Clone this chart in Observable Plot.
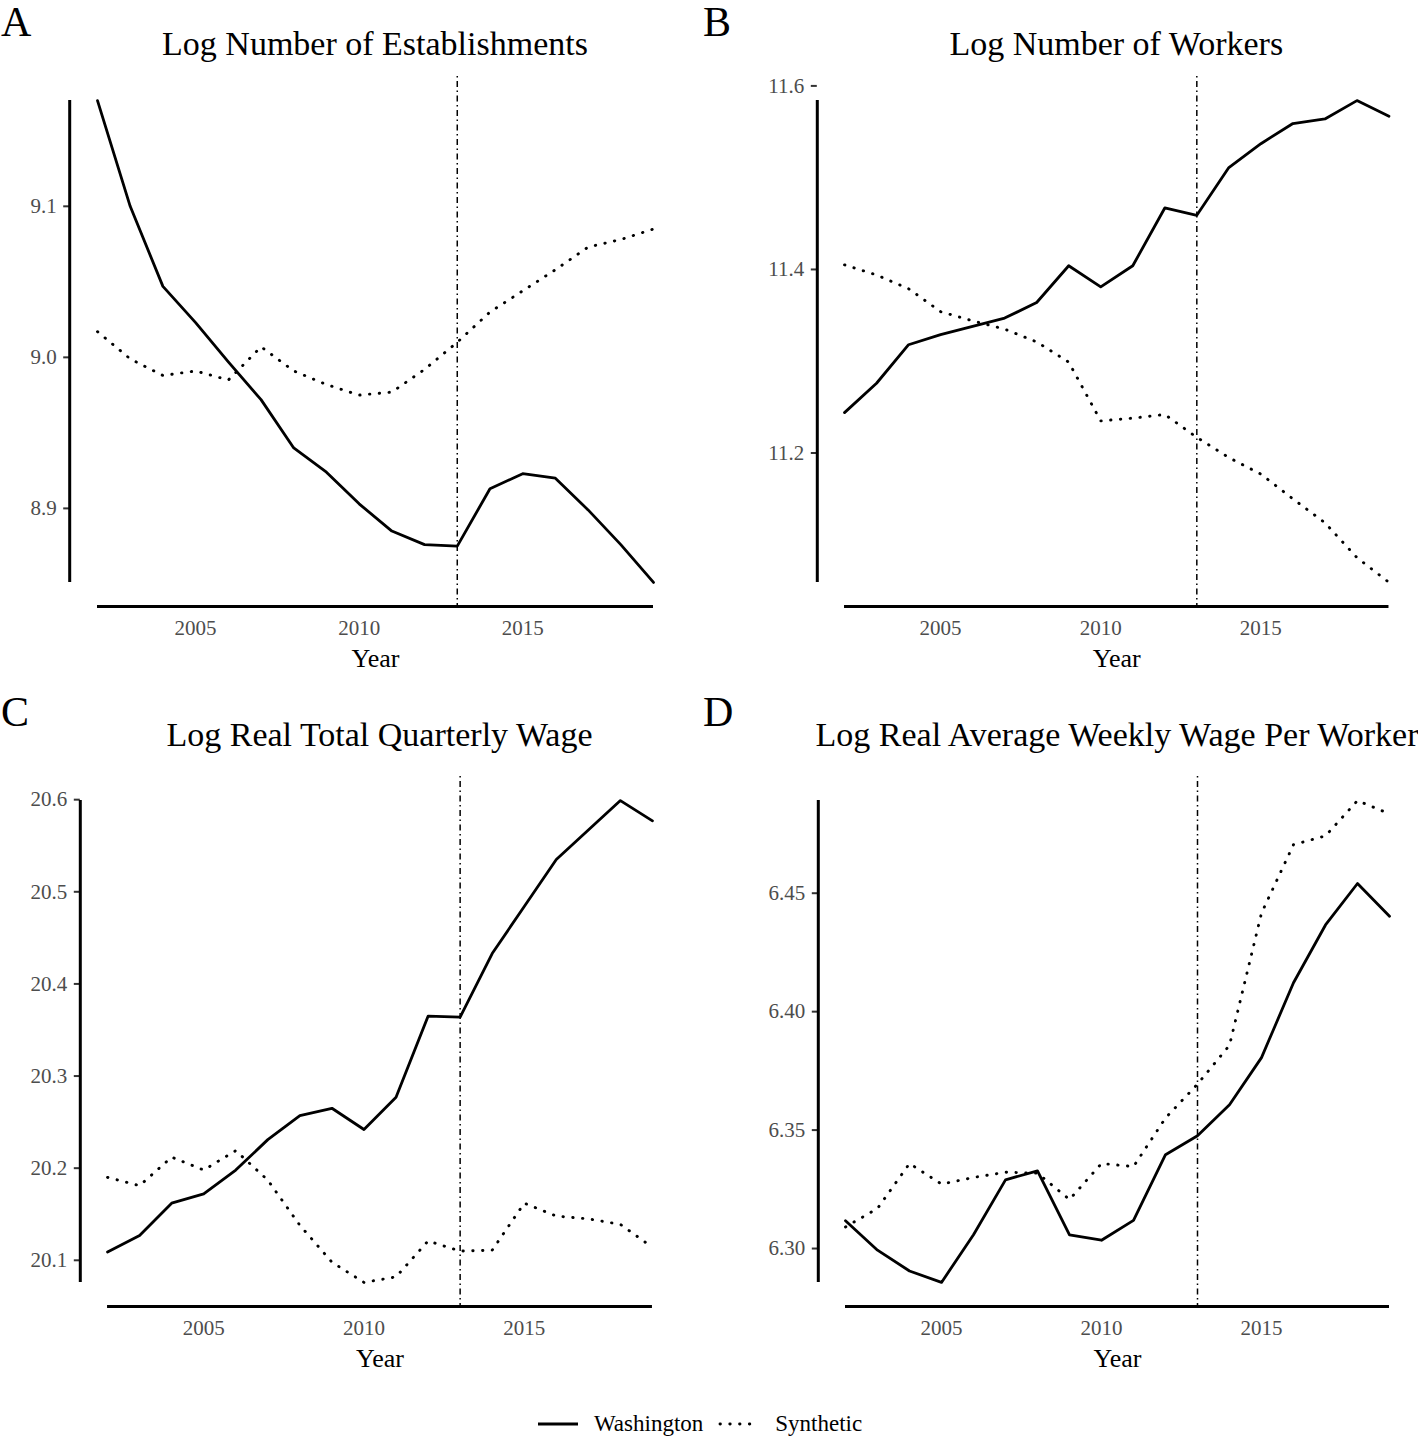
<!DOCTYPE html>
<html><head><meta charset="utf-8">
<script src="https://cdn.jsdelivr.net/npm/d3@7"></script>
<script src="https://cdn.jsdelivr.net/npm/@observablehq/plot@0.6"></script>
<style>
body{margin:0;background:#fff;}
#root{position:relative;width:1418px;height:1437px;font-family:"Liberation Serif","Times New Roman",serif;overflow:hidden;}
.panel{position:absolute;}
.title{position:absolute;font-size:34px;line-height:36px;white-space:nowrap;color:#000;transform:translateX(-50%);}
.letter{position:absolute;font-size:42px;line-height:44px;color:#000;}
.legend{position:absolute;left:536px;top:1409px;height:30px;display:flex;align-items:center;font-size:23px;color:#000;}
.legend span{margin:0 14px 0 14px;}
</style></head><body><div id="root"></div>
<script>
const years = [2002,2003,2004,2005,2006,2007,2008,2009,2010,2011,2012,2013,2014,2015,2016,2017,2018,2019];
const treatYear = 2013;
const xTicks = [2005, 2010, 2015];
const seriesNames = ["Washington", "Synthetic"];
const panelLetters = ["A", "B", "C", "D"];
const panelTitles = ["Log Number of Establishments", "Log Number of Workers", "Log Real Total Quarterly Wage", "Log Real Average Weekly Wage Per Worker"];

const estWashington = [9.170,9.100,9.047,9.023,8.997,8.972,8.940,8.924,8.903,8.885,8.876,8.875,8.913,8.923,8.920,8.899,8.876,8.851];
const estSynthetic  = [9.017,8.999,8.988,8.991,8.985,9.007,8.991,8.982,8.975,8.977,8.992,9.010,9.030,9.044,9.058,9.073,9.078,9.085];
const estTicks = [8.9, 9.0, 9.1];

const wrkWashington = [11.244,11.276,11.318,11.329,11.338,11.347,11.364,11.404,11.381,11.404,11.467,11.459,11.511,11.537,11.559,11.564,11.584,11.567];
const wrkSynthetic  = [11.405,11.394,11.379,11.354,11.344,11.335,11.321,11.299,11.235,11.238,11.242,11.217,11.195,11.177,11.150,11.124,11.086,11.059];
const wrkTicks = [11.2, 11.4, 11.6];

const totWashington = [20.109,20.127,20.162,20.172,20.198,20.231,20.257,20.265,20.242,20.277,20.365,20.364,20.433,20.484,20.535,20.567,20.599,20.577];
const totSynthetic  = [20.190,20.181,20.212,20.198,20.219,20.187,20.138,20.098,20.076,20.082,20.121,20.110,20.111,20.162,20.148,20.145,20.139,20.114];
const totTicks = [20.1, 20.2, 20.3, 20.4, 20.5, 20.6];

const avgWashington = [6.3117,6.2993,6.2905,6.2857,6.3058,6.3290,6.3328,6.3058,6.3035,6.3119,6.3396,6.3476,6.3607,6.3806,6.4122,6.4366,6.4541,6.4403];
const avgSynthetic  = [6.3091,6.3169,6.3359,6.3272,6.3300,6.3322,6.3318,6.3207,6.3359,6.3346,6.3551,6.3694,6.3858,6.4416,6.4705,6.4742,6.4891,6.4835];
const avgTicks = [6.30, 6.35, 6.40, 6.45];

const panels = [
  {wa: estWashington, syn: estSynthetic, ticks: estTicks, fmt: ".1f", left: 0,   top: 0,   mL: 69.2,  mR: 28.2, mT: 76, mB: 84},
  {wa: wrkWashington, syn: wrkSynthetic, ticks: wrkTicks, fmt: ".1f", left: 709, top: 0,   mL: 107.8, mR: 2.3,  mT: 76, mB: 84},
  {wa: totWashington, syn: totSynthetic, ticks: totTicks, fmt: ".1f", left: 0,   top: 690, mL: 79.8,  mR: 29.8, mT: 86, mB: 74},
  {wa: avgWashington, syn: avgSynthetic, ticks: avgTicks, fmt: ".2f", left: 709, top: 690, mL: 108.8, mR: 1.8,  mT: 86, mB: 74}
];

const root = document.getElementById("root");
const W = 709, H = 690;
const dotPattern = "0.4,9.4";

panels.forEach((p, k) => {
  const rows = years.flatMap((yr, i) => [
    {year: yr, value: p.wa[i], series: seriesNames[0]},
    {year: yr, value: p.syn[i], series: seriesNames[1]}
  ]);
  const [lo, hi] = d3.extent(rows, d => d.value);
  const pad = (hi - lo) * 0.05;
  const [x0, x1] = d3.extent(years);
  const xpad = (x1 - x0) * 0.05;
  const fmt = d3.format(p.fmt);
  const chart = Plot.plot({
    width: W, height: H,
    marginLeft: p.mL, marginRight: p.mR, marginTop: p.mT, marginBottom: p.mB,
    x: {domain: [x0 - xpad, x1 + xpad]},
    y: {domain: [lo - pad, hi + pad]},
    style: {fontFamily: "'Liberation Serif','Times New Roman',serif", fontSize: "21px", background: "transparent", overflow: "visible"},
    marks: [
      Plot.axisY({ticks: p.ticks, tickFormat: fmt, tickSize: 6, tickPadding: 7, stroke: "#333", strokeWidth: 2, fill: "#4d4d4d", fontSize: 21, label: null}),
      Plot.axisX({ticks: xTicks, tickFormat: d => String(d), tickSize: 0, tickPadding: 14, fill: "#4d4d4d", fontSize: 21, label: null}),
      Plot.ruleX([{x: x0 - xpad, y1: lo, y2: hi}], {x: "x", y1: "y1", y2: "y2", stroke: "#000", strokeWidth: 3}),
      Plot.ruleY([{y: lo - pad, x1: x0, x2: x1}], {y: "y", x1: "x1", x2: "x2", stroke: "#000", strokeWidth: 3}),
      Plot.ruleX([treatYear], {stroke: "#000", strokeWidth: 1.5, strokeDasharray: "1.5,3.5,6,3.5"}),
      Plot.line(rows.filter(d => d.series === seriesNames[0]), {x: "year", y: "value", stroke: "#000", strokeWidth: 2.8}),
      Plot.line(rows.filter(d => d.series === seriesNames[1]), {x: "year", y: "value", stroke: "#000", strokeWidth: 2.9, strokeDasharray: dotPattern, strokeLinecap: "round"}),
      Plot.text(["Year"], {frameAnchor: "bottom", dy: 52, lineAnchor: "middle", fontSize: 26, fill: "#000"})
    ]
  });
  const holder = document.createElement("div");
  holder.className = "panel";
  holder.style.left = p.left + "px";
  holder.style.top = p.top + "px";
  holder.appendChild(chart);
  root.appendChild(holder);

  const cx = p.left + p.mL + (W - p.mL - p.mR) / 2;
  const title = document.createElement("div");
  title.className = "title";
  title.textContent = panelTitles[k];
  title.style.left = cx + "px";
  title.style.top = (p.top + 26 + (k >= 2 ? 0.5 : 0)) + "px";
  root.appendChild(title);

  const letter = document.createElement("div");
  letter.className = "letter";
  letter.textContent = panelLetters[k];
  letter.style.left = (p.left + (k % 2 ? -6 : 1)) + "px";
  letter.style.top = (p.top + 0) + "px";
  root.appendChild(letter);
});

const legend = document.createElement("div");
legend.className = "legend";
legend.innerHTML =
  '<svg width="44" height="10"><line x1="2" x2="42" y1="5" y2="5" stroke="#000" stroke-width="2.8"/></svg>' +
  '<span>' + seriesNames[0] + '</span>' +
  '<svg width="44" height="10"><line x1="3" x2="42" y1="5" y2="5" stroke="#000" stroke-width="2.9" stroke-linecap="round" stroke-dasharray="' + dotPattern + '"/></svg>' +
  '<span>' + seriesNames[1] + '</span>';
root.appendChild(legend);
</script>
</body></html>
